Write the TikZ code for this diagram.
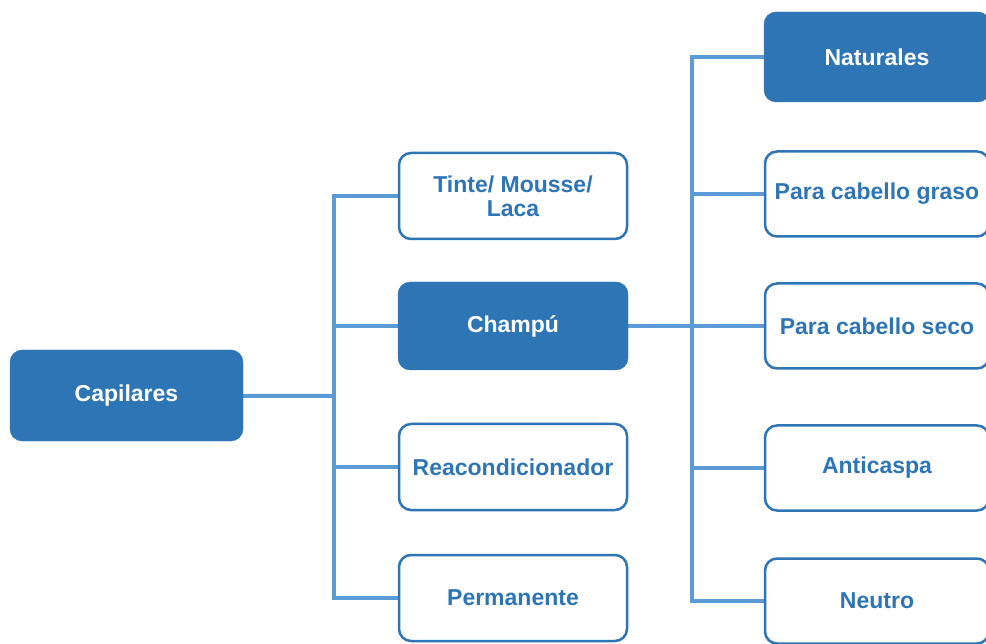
\documentclass[tikz,border=0pt]{standalone}
\usepackage{fontspec}
\setmainfont{Liberation Sans}
\usepackage{tikz}
\usetikzlibrary{backgrounds}
\definecolor{cap_dark}{RGB}{46, 117, 182}
\definecolor{cap_line}{RGB}{91, 155, 213}
\tikzstyle{fb}=[rectangle,rounded corners=12pt,fill=cap_dark,draw=cap_dark,
  text=white,font=\fontsize{23}{24}\selectfont\bfseries,align=center,inner sep=0pt]
\tikzstyle{wb}=[rectangle,rounded corners=12pt,fill=white,draw=cap_dark,line width=2.5pt,
  text=cap_dark,font=\fontsize{23}{24}\selectfont\bfseries,align=center,inner sep=0pt]
\tikzstyle{link}=[draw=cap_line,line width=4pt]
\tikzstyle{trunk}=[draw=cap_line,line width=4pt,line cap=rect]
\tikzstyle{none}=[]

\begin{document}
\begin{tikzpicture}[x=1pt,y=-1pt]
            \clip (0, 0) rectangle (986, 644);
            \node [style=fb, minimum width=233, minimum height=91] (0) at (126.5, 395.5) {Capilares};
            \node [style=wb, minimum width=228, minimum height=86] (1) at (513, 196) {Tinte/ Mousse/\\Laca};
            \node [style=fb, minimum width=230, minimum height=88] (2) at (513, 326) {Champú};
            \node [style=wb, minimum width=228, minimum height=86] (3) at (513, 467) {Reacondicionador};
            \node [style=wb, minimum width=228, minimum height=86] (4) at (513, 598) {Permanente};
            \node [style=fb, minimum width=226, minimum height=90] (5) at (877, 57) {Naturales};
            \node [style=wb, minimum width=224, minimum height=85] (6) at (877, 194) {Para cabello graso};
            \node [style=wb, minimum width=224, minimum height=85] (7) at (877, 326) {Para cabello seco};
            \node [style=wb, minimum width=224, minimum height=85] (8) at (877, 468) {Anticaspa};
            \node [style=wb, minimum width=224, minimum height=85] (9) at (877, 601) {Neutro};
            \node [style=none] (20) at (334, 396) {};
            \node [style=none] (21) at (334, 196) {};
            \node [style=none] (22) at (334, 326) {};
            \node [style=none] (23) at (334, 467) {};
            \node [style=none] (24) at (334, 598) {};
            \node [style=none] (30) at (692, 326) {};
            \node [style=none] (31) at (692, 57) {};
            \node [style=none] (32) at (692, 194) {};
            \node [style=none] (33) at (692, 468) {};
            \node [style=none] (34) at (692, 601) {};
            \begin{scope}[on background layer]
            \draw [style=trunk] (21.center) to (24.center);
            \draw [style=trunk] (31.center) to (34.center);
            \draw [style=link] (0.center) to (20.center);
            \draw [style=link] (21.center) to (1.center);
            \draw [style=link] (22.center) to (2.center);
            \draw [style=link] (23.center) to (3.center);
            \draw [style=link] (24.center) to (4.center);
            \draw [style=link] (2.center) to (30.center);
            \draw [style=link] (31.center) to (5.center);
            \draw [style=link] (32.center) to (6.center);
            \draw [style=link] (30.center) to (7.center);
            \draw [style=link] (33.center) to (8.center);
            \draw [style=link] (34.center) to (9.center);
            \end{scope}
    \end{tikzpicture}
\end{document}
